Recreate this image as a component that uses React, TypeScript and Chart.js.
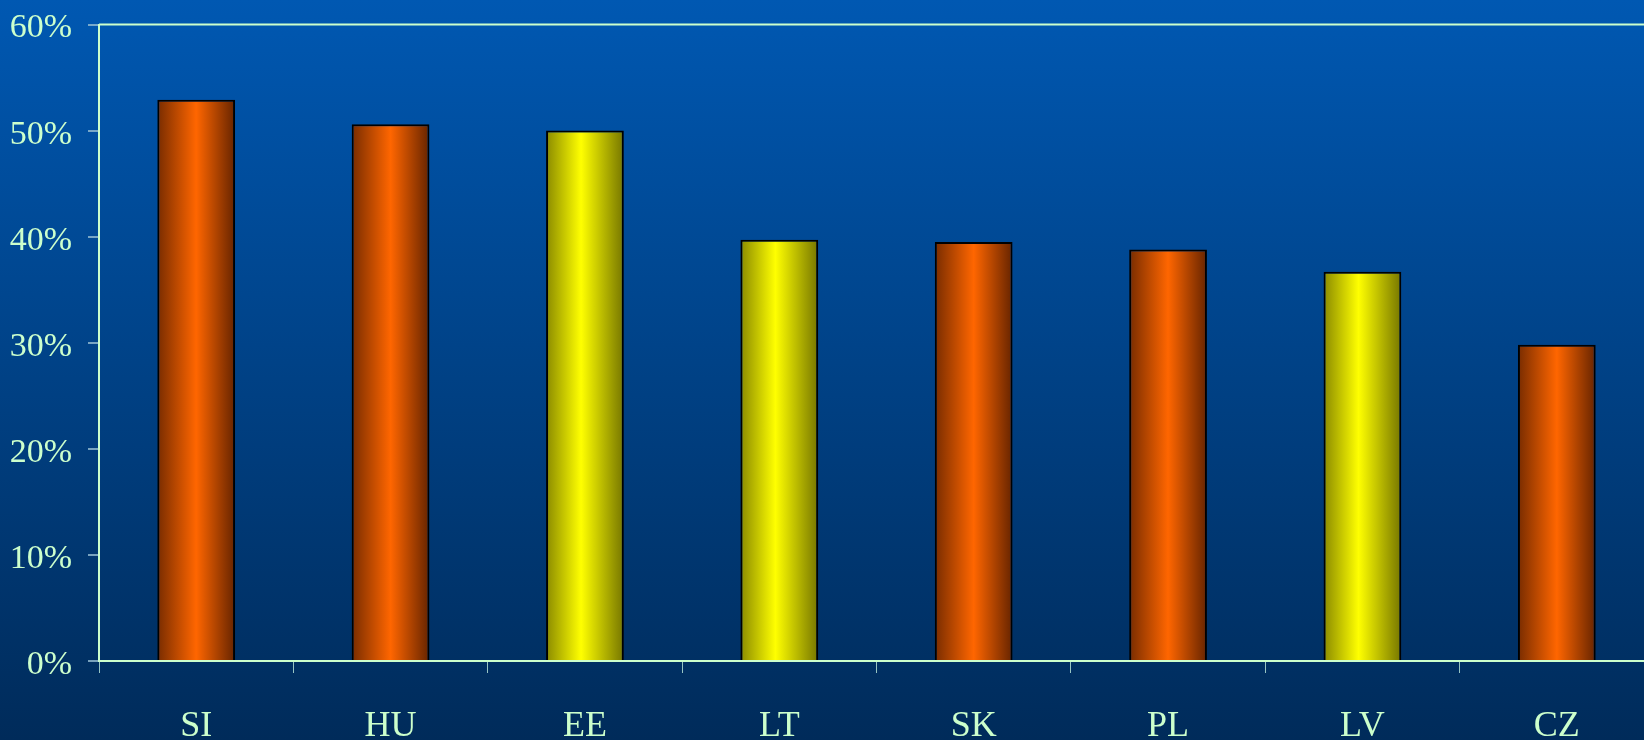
import React, { useEffect, useRef } from "react";
import { Chart, registerables } from "chart.js";

Chart.register(...registerables);

const categories = ["SI", "HU", "EE", "LT", "SK", "PL", "LV", "CZ"];
const values = [52.9, 50.6, 50.0, 39.7, 39.5, 38.8, 36.7, 29.8];
const colorKeys = ["orange", "orange", "yellow", "yellow", "orange", "orange", "yellow", "orange"];
const yTicks = [0, 10, 20, 30, 40, 50, 60];

const gradientStops: Record<string, [number, string][]> = {
  orange: [
    [0, "#782c00"],
    [0.5, "#ff6600"],
    [1, "#662400"],
  ],
  yellow: [
    [0, "#8a8a00"],
    [0.45, "#ffff00"],
    [1, "#767600"],
  ],
};

const TEXT = "#ccffcc";
const FONT = "'Liberation Serif', 'Times New Roman', serif";

const bgPlugin = {
  id: "bg",
  beforeDraw(chart: any) {
    const { ctx, width, height } = chart;
    const g = ctx.createLinearGradient(0, 0, 0, height);
    g.addColorStop(0, "#0058b2");
    g.addColorStop(1, "#002b5a");
    ctx.save();
    ctx.fillStyle = g;
    ctx.fillRect(0, 0, width, height);
    ctx.restore();
  },
  afterDraw(chart: any) {
    const { ctx, chartArea } = chart;
    ctx.save();
    ctx.strokeStyle = TEXT;
    ctx.lineWidth = 2;
    ctx.beginPath();
    ctx.moveTo(chartArea.left, chartArea.top);
    ctx.lineTo(chartArea.right, chartArea.top);
    ctx.stroke();
    ctx.restore();
  },
};

export default function App() {
  const ref = useRef<HTMLCanvasElement | null>(null);
  useEffect(() => {
    if (!ref.current) return;
    const chart = new Chart(ref.current, {
      type: "bar",
      data: {
        labels: categories,
        datasets: [
          {
            data: values,
            borderColor: "#000000",
            borderWidth: 2,
            borderSkipped: "bottom",
            barPercentage: 0.4,
            categoryPercentage: 1,
            backgroundColor: (c: any) => {
              const ch = c.chart;
              const xs = ch.scales?.x;
              const key = colorKeys[c.dataIndex] || "orange";
              if (!xs || !ch.chartArea) return gradientStops[key][1][1];
              const center = xs.getPixelForValue(c.dataIndex);
              const w = (xs.width / categories.length) * 0.4;
              const g = ch.ctx.createLinearGradient(center - w / 2, 0, center + w / 2, 0);
              for (const [o, col] of gradientStops[key]) g.addColorStop(o, col);
              return g;
            },
          },
        ],
      },
      options: {
        animation: false,
        responsive: false,
        devicePixelRatio: 1,
        layout: { padding: { top: 22, right: 0, left: 0, bottom: 0 } },
        plugins: { legend: { display: false }, tooltip: { enabled: false } },
        scales: {
          x: {
            grid: {
              offset: true,
              drawOnChartArea: false,
              tickLength: 12,
              color: "rgba(190,235,220,0.8)",
              lineWidth: 1,
            },
            border: { color: TEXT, width: 2 },
            ticks: { color: TEXT, font: { family: FONT, size: 36 }, padding: 32, maxRotation: 0 },
            afterFit: (s: any) => {
              s.height = 79;
            },
          },
          y: {
            min: 0,
            max: 60,
            afterBuildTicks: (s: any) => {
              s.ticks = yTicks.map((v) => ({ value: v }));
            },
            grid: {
              drawOnChartArea: false,
              tickLength: 11,
              color: "rgba(150,190,210,0.8)",
              lineWidth: 2,
            },
            border: { color: TEXT, width: 2 },
            ticks: {
              color: TEXT,
              font: { family: FONT, size: 34, lineHeight: 0.5 },
              padding: 16,
              labelOffset: 4,
              callback: (v: any) => v + "%",
            },
            afterFit: (s: any) => {
              s.width = 99;
            },
          },
        },
      },
      plugins: [bgPlugin],
    });
    return () => chart.destroy();
  }, []);
  return (
    <div
      style={{
        position: "fixed",
        left: 0,
        top: 0,
        width: 1644,
        height: 740,
        overflow: "hidden",
      }}
    >
      <canvas ref={ref} width={1654} height={740} style={{ display: "block" }} />
    </div>
  );
}
